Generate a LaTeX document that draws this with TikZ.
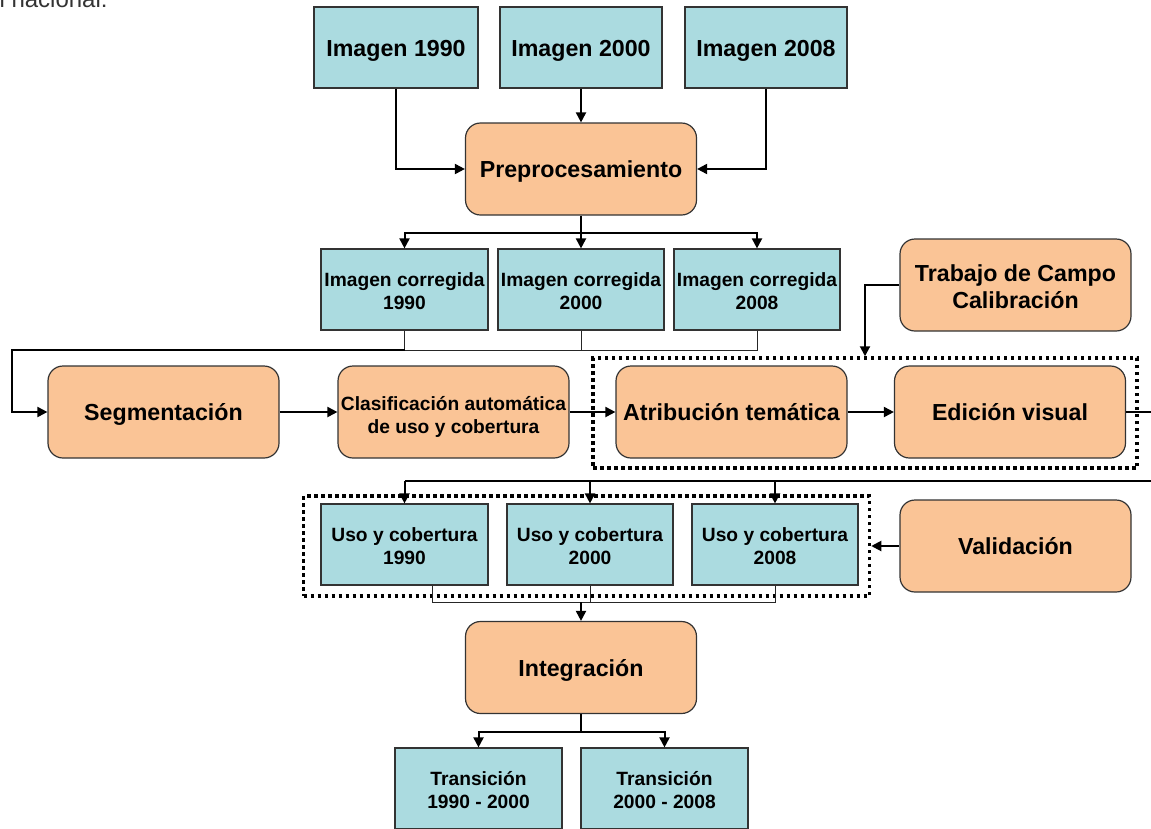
\documentclass[tikz,border=0pt]{standalone}
\usepackage{fontspec}
\setmainfont{Liberation Sans}
\usetikzlibrary{arrows.meta}
\definecolor{cajaazul}{RGB}{171,219,224}
\definecolor{cajanaranja}{RGB}{250,196,150}
\newcommand{\txtgrande}{\fontsize{23.2}{27}\selectfont\bfseries}
\newcommand{\txtchico}{\fontsize{19.2}{23}\selectfont\bfseries}
\tikzset{
  imagen/.style={draw=black!80, line width=1.2pt, fill=cajaazul, align=center, inner sep=0pt, minimum height=81pt},
  proceso/.style={draw=black!80, line width=1.2pt, fill=cajanaranja, rounded corners=15pt, align=center, inner sep=0pt, minimum width=231pt, minimum height=92pt, font=\txtgrande},
  unalinea/.style={text height=22pt, text depth=5pt},
  doslineas/.style={text height=45pt, text depth=5pt},
  grupo/.style={draw=black, line width=3.5pt, dash pattern=on 3.5pt off 3.5pt, minimum width=#1},
  flecha/.style={line width=2pt, -{Triangle[length=10pt,width=10pt]}},
  linea/.style={line width=2pt},
  lineafina/.style={line width=1pt, black!85}
}
\begin{document}
\begin{tikzpicture}[x=1pt,y=-1pt]
  \useasboundingbox (0,0) rectangle (1151,828);
  \node[anchor=base west, text=black!80, font=\fontsize{24}{24}\selectfont] (pagina) at (-4,7) {l nacional:};

  \node[imagen, unalinea, minimum width=164pt, font=\txtgrande] (img90) at (396,47.5) {Imagen 1990};
  \node[imagen, unalinea, minimum width=162pt, font=\txtgrande] (img00) at (581,47.5) {Imagen 2000};
  \node[imagen, unalinea, minimum width=162pt, font=\txtgrande] (img08) at (766,47.5) {Imagen 2008};
  \node[proceso, unalinea] (prep) at (581,169) {Preprocesamiento};

  \node[imagen, doslineas, minimum width=167pt, font=\txtchico] (cor90) at (404.5,289.5) {Imagen corregida\\1990};
  \node[imagen, doslineas, minimum width=166pt, font=\txtchico] (cor00) at (581,289.5) {Imagen corregida\\2000};
  \node[imagen, doslineas, minimum width=166pt, font=\txtchico] (cor08) at (757,289.5) {Imagen corregida\\2008};
  \node[proceso, text height=51pt, text depth=5pt] (trab) at (1015.5,285) {Trabajo de Campo\\Calibración};

  \node[grupo=544pt, minimum height=110pt] (grp1) at (865,413) {};
  \node[proceso, unalinea] (seg) at (163.5,412) {Segmentación};
  \node[proceso, font=\txtchico, text height=47pt, text depth=5pt] (clas) at (453.5,412) {Clasificación automática\\de uso y cobertura};
  \node[proceso, unalinea] (atri) at (731.5,412) {Atribución temática};
  \node[proceso, unalinea] (edic) at (1010,412) {Edición visual};

  \node[grupo=566pt, minimum height=100pt] (grp2) at (586.5,546) {};
  \node[imagen, doslineas, minimum width=167pt, font=\txtchico] (uso90) at (404.5,544.5) {Uso y cobertura\\1990};
  \node[imagen, doslineas, minimum width=166pt, font=\txtchico] (uso00) at (590,544.5) {Uso y cobertura\\2000};
  \node[imagen, doslineas, minimum width=166pt, font=\txtchico] (uso08) at (775,544.5) {Uso y cobertura\\2008};
  \node[proceso, unalinea] (vali) at (1015.5,546) {Validación};

  \node[proceso, unalinea] (integ) at (581,667.5) {Integración};
  \node[imagen, doslineas, minimum width=167pt, font=\txtchico] (tra1) at (478.5,788.5) {Transición\\1990 - 2000};
  \node[imagen, doslineas, minimum width=167pt, font=\txtchico] (tra2) at (664.5,788.5) {Transición\\2000 - 2008};

  \coordinate (div1) at (581,233);
  \coordinate (izq) at (12,350);
  \coordinate (der) at (1170,481);
  \coordinate (une) at (581,602);
  \coordinate (div2) at (581,732);

  \draw[flecha] (img90.south) |- (prep.west);
  \draw[flecha] (img00.south) -- (prep.north);
  \draw[flecha] (img08.south) |- (prep.east);
  \draw[linea] (prep.south) -- (div1);
  \draw[flecha] (div1) -| (cor90.north);
  \draw[flecha] (div1) -- (cor00.north);
  \draw[flecha] (div1) -| (cor08.north);
  \draw[lineafina] (cor90.south) |- (cor08.south |- izq) -- (cor08.south);
  \draw[lineafina] (cor00.south) -- (cor00.south |- izq);
  \draw[flecha] (cor90.south |- izq) -- (izq) |- (seg.west);
  \draw[flecha] (trab.west) -| (grp1.north);
  \draw[flecha] (seg) -- (clas);
  \draw[flecha] (clas) -- (atri);
  \draw[flecha] (atri) -- (edic);
  \draw[linea] (edic.east) -| (der) -- (uso90.north |- der);
  \draw[flecha] (uso90.north |- der) -- (uso90.north);
  \draw[flecha] (uso00.north |- der) -- (uso00.north);
  \draw[flecha] (uso08.north |- der) -- (uso08.north);
  \draw[flecha] (vali.west) -- (grp2.east);
  \draw[lineafina] ([xshift=28pt]uso90.south) |- (une) -| (uso08.south);
  \draw[lineafina] (uso00.south) -- (uso00.south |- une);
  \draw[flecha] (une) -- (integ.north);
  \draw[linea] (integ.south) -- (div2);
  \draw[flecha] (div2) -| (tra1.north);
  \draw[flecha] (div2) -| (tra2.north);
\end{tikzpicture}
\end{document}
